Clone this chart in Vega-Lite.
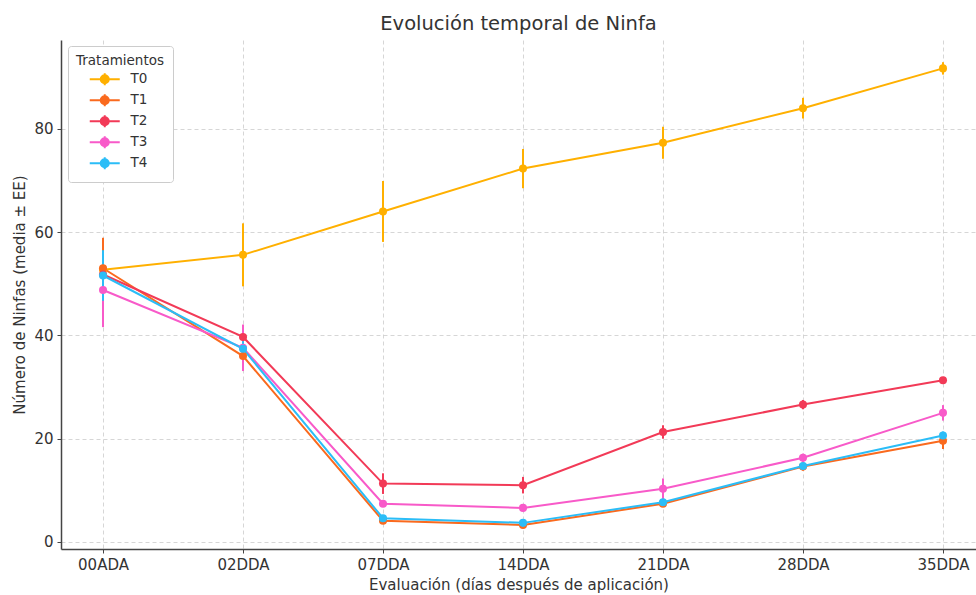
{
  "$schema": "https://vega.github.io/schema/vega-lite/v6.json",
  "width": 915,
  "height": 509,
  "autosize": {"type": "none"},
  "padding": {"left": 61, "top": 40, "right": 0, "bottom": 46},
  "background": "white",
  "title": {"text": "Evolución temporal de Ninfa", "fontSize": 19.5, "font": "DejaVu Sans", "fontWeight": "normal", "color": "#333333", "offset": 6},
  "config": {
    "font": "DejaVu Sans",
    "view": {"stroke": null},
    "axis": {
      "labelFont": "DejaVu Sans", "titleFont": "DejaVu Sans", "labelFontSize": 15, "titleFontSize": 15,
      "labelColor": "#333333", "titleColor": "#333333", "titleFontWeight": "normal",
      "domainColor": "#444444", "domainWidth": 1.5, "tickColor": "#444444", "tickSize": 4,
      "gridColor": "#cccccc", "gridDash": [4, 3], "gridWidth": 0.8
    },
    "legend": {
      "labelFont": "DejaVu Sans", "titleFont": "DejaVu Sans"
    }
  },
  "data": {"values": [
    {"trat": "T0", "eval": "00ADA", "media": 52.7, "ee": 5.5},
    {"trat": "T0", "eval": "02DDA", "media": 55.6, "ee": 6.1},
    {"trat": "T0", "eval": "07DDA", "media": 64.0, "ee": 5.9},
    {"trat": "T0", "eval": "14DDA", "media": 72.3, "ee": 3.8},
    {"trat": "T0", "eval": "21DDA", "media": 77.3, "ee": 3.1},
    {"trat": "T0", "eval": "28DDA", "media": 84.0, "ee": 2.0},
    {"trat": "T0", "eval": "35DDA", "media": 91.7, "ee": 1.2},
    {"trat": "T1", "eval": "00ADA", "media": 53.0, "ee": 5.9},
    {"trat": "T1", "eval": "02DDA", "media": 36.0, "ee": 1.6},
    {"trat": "T1", "eval": "07DDA", "media": 4.1, "ee": 0.6},
    {"trat": "T1", "eval": "14DDA", "media": 3.3, "ee": 0.5},
    {"trat": "T1", "eval": "21DDA", "media": 7.4, "ee": 0.6},
    {"trat": "T1", "eval": "28DDA", "media": 14.6, "ee": 0.8},
    {"trat": "T1", "eval": "35DDA", "media": 19.6, "ee": 1.6},
    {"trat": "T2", "eval": "00ADA", "media": 51.8, "ee": 3.0},
    {"trat": "T2", "eval": "02DDA", "media": 39.7, "ee": 2.0},
    {"trat": "T2", "eval": "07DDA", "media": 11.3, "ee": 2.0},
    {"trat": "T2", "eval": "14DDA", "media": 11.0, "ee": 1.6},
    {"trat": "T2", "eval": "21DDA", "media": 21.3, "ee": 1.3},
    {"trat": "T2", "eval": "28DDA", "media": 26.6, "ee": 0.9},
    {"trat": "T2", "eval": "35DDA", "media": 31.3, "ee": 0.6},
    {"trat": "T3", "eval": "00ADA", "media": 48.8, "ee": 7.2},
    {"trat": "T3", "eval": "02DDA", "media": 37.6, "ee": 4.5},
    {"trat": "T3", "eval": "07DDA", "media": 7.4, "ee": 0.5},
    {"trat": "T3", "eval": "14DDA", "media": 6.6, "ee": 0.5},
    {"trat": "T3", "eval": "21DDA", "media": 10.3, "ee": 2.0},
    {"trat": "T3", "eval": "28DDA", "media": 16.3, "ee": 0.8},
    {"trat": "T3", "eval": "35DDA", "media": 25.0, "ee": 1.5},
    {"trat": "T4", "eval": "00ADA", "media": 51.6, "ee": 4.9},
    {"trat": "T4", "eval": "02DDA", "media": 37.4, "ee": 1.5},
    {"trat": "T4", "eval": "07DDA", "media": 4.6, "ee": 0.5},
    {"trat": "T4", "eval": "14DDA", "media": 3.7, "ee": 0.5},
    {"trat": "T4", "eval": "21DDA", "media": 7.7, "ee": 0.6},
    {"trat": "T4", "eval": "28DDA", "media": 14.7, "ee": 0.6},
    {"trat": "T4", "eval": "35DDA", "media": 20.6, "ee": 0.8}
  ]},
  "encoding": {
    "x": {"field": "eval", "type": "ordinal", "sort": null,
      "scale": {"type": "point", "padding": 0.268, "align": 0.56},
      "axis": {"title": "Evaluación (días después de aplicación)", "labelAngle": 0, "labelPadding": 4, "titlePadding": 5, "grid": true}},
    "color": {"field": "trat", "type": "nominal",
      "scale": {"domain": ["T0", "T1", "T2", "T3", "T4"], "range": ["#FFB000", "#FA6A1E", "#F23A57", "#F85AC9", "#2BBDF7"]},
      "legend": {
        "title": "Tratamientos", "orient": "none", "legendX": 7, "legendY": 6,
        "titleFontSize": 13.5, "titleFontWeight": "normal", "titleColor": "#333333", "titleAnchor": "middle",
        "labelFontSize": 13.5, "labelColor": "#333333", "labelOffset": 19,
        "symbolType": "M-3,0H3M0,-1.2V1.2M-0.8,0A0.8,0.8 0 1,0 0.8,0A0.8,0.8 0 1,0 -0.8,0Z",
        "symbolSize": 100, "symbolStrokeWidth": 2, "symbolOffset": 6,
        "rowPadding": 0, "padding": 8, "strokeColor": "#cccccc", "cornerRadius": 3, "fillColor": "white"
      }}
  },
  "layer": [
    {"mark": {"type": "line", "strokeWidth": 2},
     "encoding": {"y": {"field": "media", "type": "quantitative", "title": "Número de Ninfas (media ± EE)",
        "scale": {"domain": [-1.36, 97.2], "nice": false, "zero": false},
        "axis": {"values": [0, 20, 40, 60, 80], "labelPadding": 4, "titlePadding": 6}}}},
    {"mark": {"type": "errorbar", "thickness": 2},
     "encoding": {"y": {"field": "media", "type": "quantitative", "title": "Número de Ninfas (media ± EE)"}, "yError": {"field": "ee"}}},
    {"mark": {"type": "point", "filled": true, "size": 65, "opacity": 1},
     "encoding": {"y": {"field": "media", "type": "quantitative", "title": "Número de Ninfas (media ± EE)"}}}
  ]
}
